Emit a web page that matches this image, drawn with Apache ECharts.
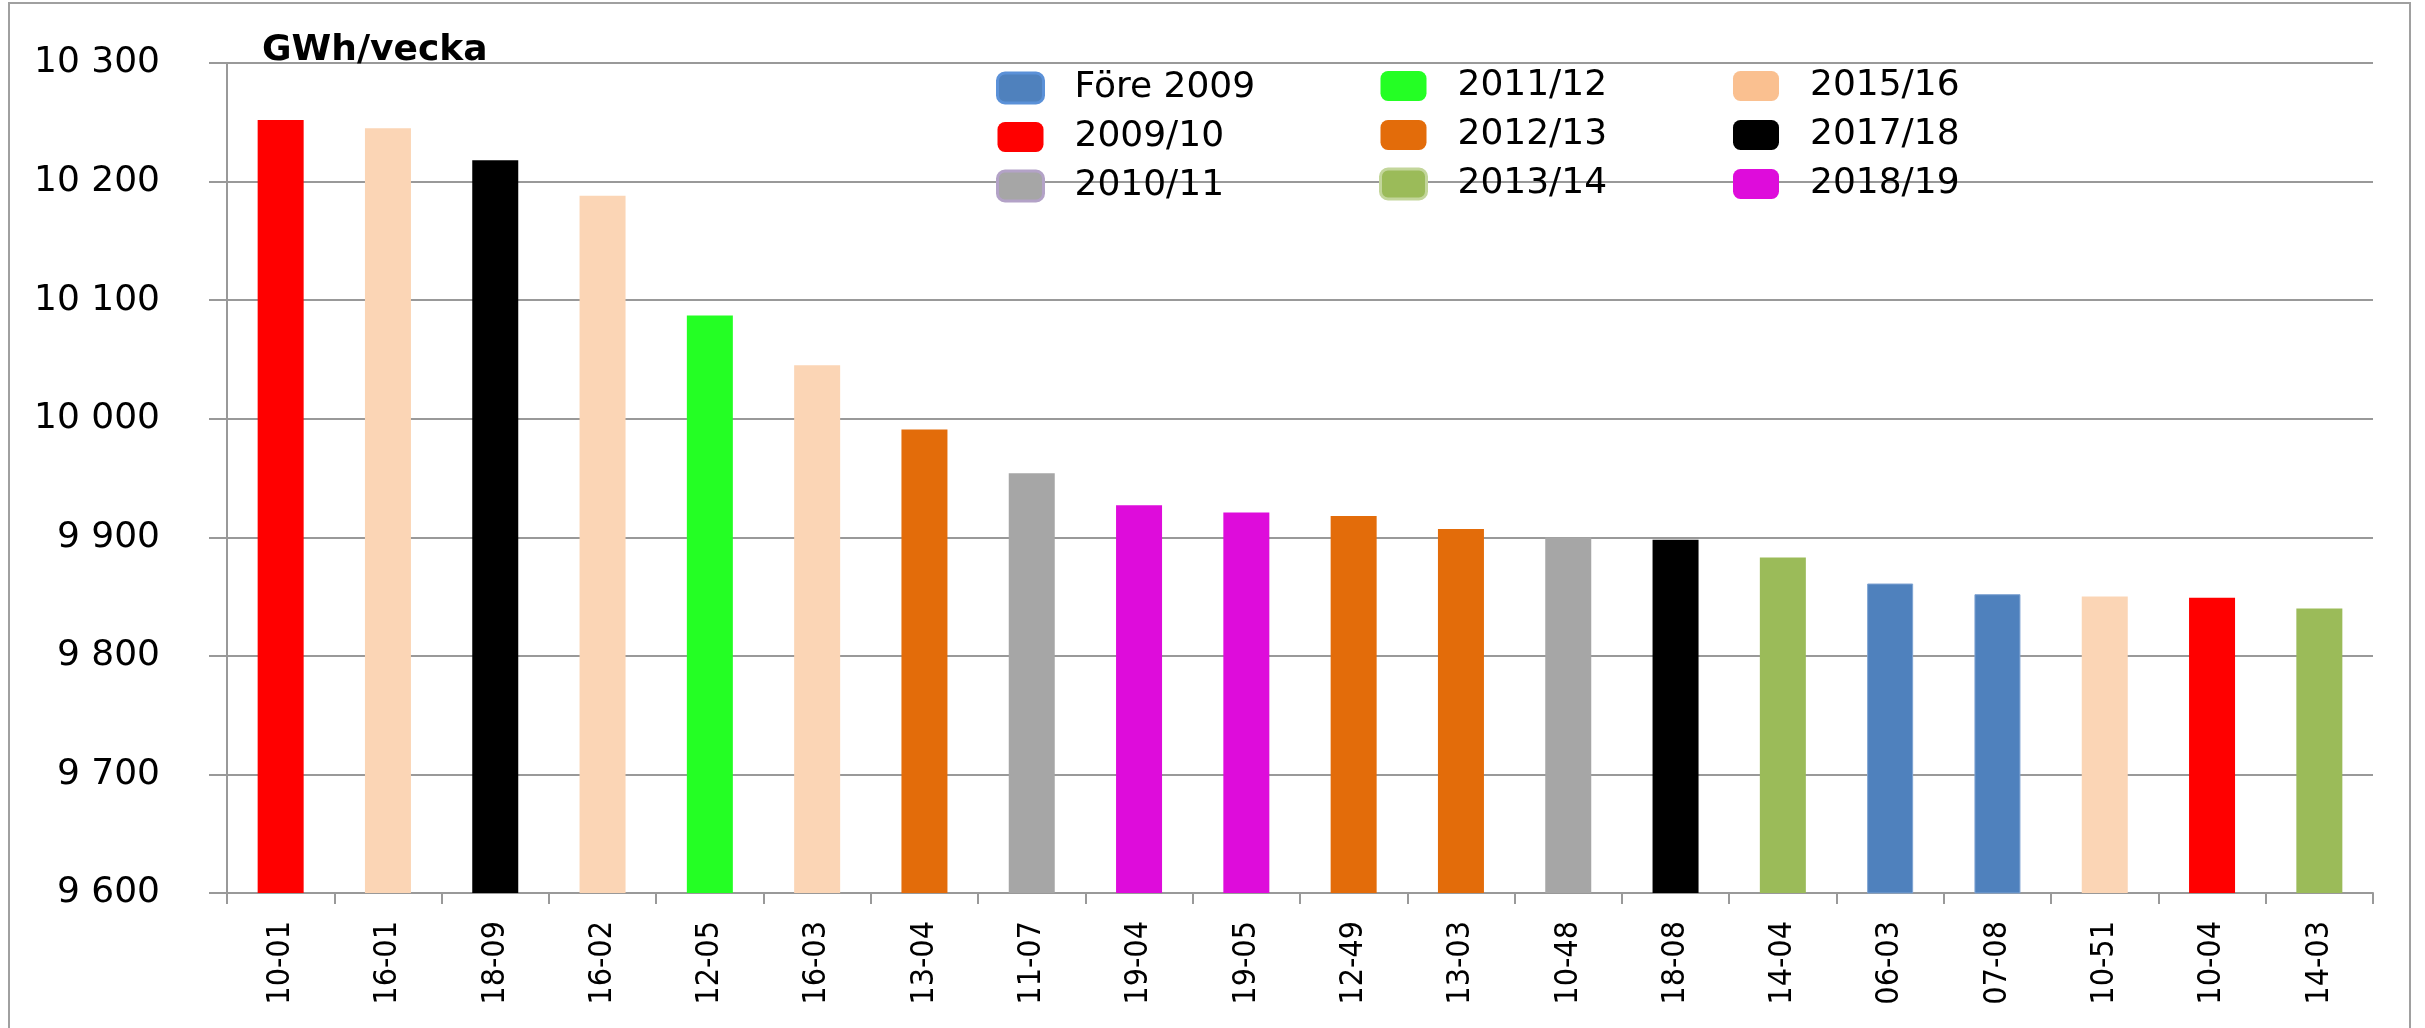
<!DOCTYPE html>
<html>
<head>
<meta charset="utf-8">
<script src="https://cdn.jsdelivr.net/npm/echarts@6/dist/echarts.min.js"></script>
<style>
html,body{margin:0;padding:0;background:#fff;}
#chart{width:2425px;height:1028px;}
</style>
</head>
<body>
<div id="chart"></div>
<script>
// ---- data ----
var categories = ['10-01','16-01','18-09','16-02','12-05','16-03','13-04','11-07','19-04','19-05','12-49','13-03','10-48','18-08','14-04','06-03','07-08','10-51','10-04','14-03'];
var values = [10252,10245,10218,10188,10087,10045,9991,9954,9927,9921,9918,9907,9900,9898,9883,9861,9852,9850,9849,9840];
var barSeason = ['2009/10','2015/16','2017/18','2015/16','2011/12','2015/16','2012/13','2010/11','2018/19','2018/19','2012/13','2012/13','2010/11','2017/18','2013/14','Före 2009','Före 2009','2015/16','2009/10','2013/14'];
var seasons = ['Före 2009','2009/10','2010/11','2011/12','2012/13','2013/14','2015/16','2017/18','2018/19'];
var legendCol1 = ['Före 2009','2009/10','2010/11'];
var legendCol2 = ['2011/12','2012/13','2013/14'];
var legendCol3 = ['2015/16','2017/18','2018/19'];
var yMin = 9600, yMax = 10300, yStep = 100;
var axisTitle = 'GWh/vecka';

// ---- styles ----
var barColor = {
  'Före 2009':'#4F81BD','2009/10':'#FF0000','2010/11':'#A6A6A6','2011/12':'#24FF24',
  '2012/13':'#E36C0A','2013/14':'#9BBB59','2015/16':'#FBD5B5','2017/18':'#000000','2018/19':'#DE0CDB'
};
var legendStyle = {
  'Före 2009':{color:'#4F81BD',borderColor:'#5B91D8',borderWidth:3},
  '2009/10':{color:'#FF0000'},
  '2010/11':{color:'#A6A6A6',borderColor:'#B3A2C7',borderWidth:3},
  '2011/12':{color:'#24FF24'},
  '2012/13':{color:'#E36C0A'},
  '2013/14':{color:'#9BBB59',borderColor:'#C3D69B',borderWidth:3},
  '2015/16':{color:'#FAC090'},
  '2017/18':{color:'#000000'},
  '2018/19':{color:'#DE0CDB'}
};

var series = seasons.map(function(s){
  return {
    name: s,
    type: 'bar',
    barWidth: 46,
    barGap: '-100%',
    itemStyle: s === 'Före 2009' ? {color: barColor[s], borderColor:'#7EA3D2', borderWidth:1} : {color: barColor[s]},
    data: values.map(function(v,i){ return barSeason[i] === s ? v : '-'; })
  };
});

function legendFor(names, left, top){
  return {
    orient:'vertical', left:left, top:top,
    itemWidth:46, itemHeight:30, itemGap:13, icon:'roundRect',
    textStyle:{fontFamily:'DejaVu Sans', fontSize:36, color:'#000', padding:[0,0,0,26]},
    data: names.map(function(n){ return {name:n, itemStyle: legendStyle[n]}; })
  };
}

var chart = echarts.init(document.getElementById('chart'));
chart.setOption({
  animation:false,
  backgroundColor:'#fff',
  graphic:[{type:'rect', shape:{x:9,y:3,width:2401,height:1100}, style:{fill:'none',stroke:'#A0A0A0',lineWidth:2}, z:-10}],
  title:{text:axisTitle, left:257, top:28, textStyle:{fontFamily:'DejaVu Sans', fontWeight:'bold', fontSize:36, color:'#000'}},
  legend:[legendFor(legendCol1, 991, 65), legendFor(legendCol2, 1374, 63), legendFor(legendCol3, 1728, 63)],
  grid:{left:227, right:52, top:63, bottom:135, containLabel:false},
  xAxis:{
    type:'category', data:categories,
    axisLine:{show:true, lineStyle:{color:'#999', width:2}},
    axisTick:{show:true, length:11, lineStyle:{color:'#999', width:2}},
    axisLabel:{rotate:90, margin:28, fontFamily:'"DejaVu Sans Condensed", "DejaVu Sans", sans-serif', fontSize:32, color:'#000'}
  },
  yAxis:{
    type:'value', min:yMin, max:yMax, interval:yStep,
    axisLine:{show:true, lineStyle:{color:'#999', width:2}},
    axisTick:{show:true, length:18, lineStyle:{color:'#999', width:2}},
    splitLine:{show:true, lineStyle:{color:'#999', width:2}},
    axisLabel:{margin:67, fontFamily:'DejaVu Sans', fontSize:36, color:'#000',
      formatter:function(v){ var s=String(Math.round(v)); return s.replace(/\B(?=(\d{3})+(?!\d))/g,' '); }}
  },
  series:series
});
</script>
</body>
</html>
